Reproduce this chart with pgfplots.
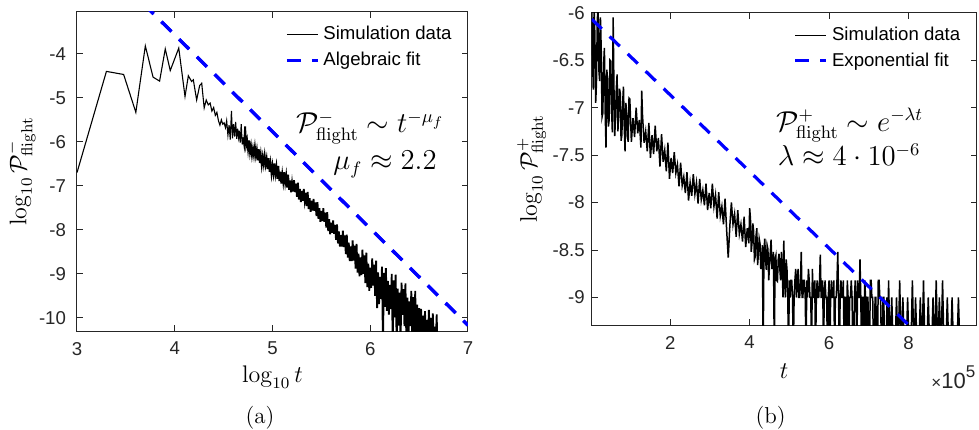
\documentclass[border=0pt]{standalone}
\usepackage[no-math]{fontspec}
\newfontfamily\hel{Liberation Sans}
\usepackage{pgfplots}
\usepackage{pgfplotstable}
\pgfplotsset{compat=1.18}
\definecolor{axgray}{rgb}{0.15,0.15,0.15}
\pgfplotsset{
 mystyle/.style={
  scale only axis,
  axis line style={axgray, line width=0.5pt},
  tick style={axgray, line width=0.5pt},
  major tick length=3pt,
  tick align=inside,
  /pgf/number format/assume math mode=true,
  ticklabel style={font=\hel\fontsize{9.3}{11}\selectfont, text=axgray},
  xticklabel style={yshift=-2pt},
  label style={font=\fontsize{11.5}{13}\selectfont},
  legend style={draw=none, fill=none, font=\hel\fontsize{9.3}{11}\selectfont, row sep=0.5pt},
  legend cell align=left,
 }
}
\pgfplotstableread{
x y
3.000 -6.70
3.301 -4.40
3.477 -4.47
3.602 -5.33
3.699 -3.82
3.778 -4.53
3.845 -4.62
3.903 -3.89
3.954 -4.38
4.041 -3.87
4.105 -4.97
4.139 -4.50
4.173 -4.63
4.190 -4.59
4.224 -5.05
4.255 -4.72
4.276 -4.67
4.301 -5.23
4.322 -5.05
4.343 -5.16
4.362 -5.12
4.380 -5.30
4.398 -5.22
4.415 -5.40
4.431 -5.33
4.447 -5.52
4.462 -5.62
4.477 -5.50
4.491 -5.60
4.505 -5.57
4.519 -5.68
4.531 -5.52
4.544 -5.85
4.556 -5.62
4.568 -5.95
4.580 -5.30
4.591 -5.92
4.602 -5.60
4.613 -5.88
4.623 -5.55
4.634 -5.93
4.643 -5.70
4.653 -5.90
4.66 -5.75
4.67 -6.02
4.68 -5.60
4.69 -6.06
4.70 -5.90
}\leftearly
\pgfplotstableread{
x y
4.70 -5.90
4.71 -6.05
4.72 -5.65
4.73 -6.08
4.74 -5.96
4.75 -6.18
4.76 -5.97
4.77 -6.24
4.78 -6.09
4.79 -6.31
4.80 -6.15
4.81 -6.31
4.82 -6.11
4.83 -6.32
4.84 -6.18
4.85 -6.42
4.86 -6.17
4.87 -6.48
4.88 -6.29
4.89 -6.53
4.90 -6.34
4.91 -6.51
4.92 -6.31
4.93 -6.52
4.94 -6.38
4.95 -6.62
4.96 -6.37
4.97 -6.68
4.98 -6.49
4.99 -6.73
5.00 -6.54
5.01 -6.72
5.02 -6.49
5.03 -6.73
5.04 -6.56
5.05 -6.84
5.06 -6.55
5.07 -6.89
5.08 -6.68
5.09 -6.95
5.10 -6.73
5.11 -6.92
5.12 -6.69
5.13 -6.93
5.14 -6.76
5.15 -7.04
5.16 -6.75
5.17 -7.09
5.18 -6.88
5.19 -7.15
5.20 -6.93
5.21 -7.13
5.22 -6.87
5.23 -7.14
5.24 -6.95
5.25 -7.25
5.26 -6.93
5.27 -7.31
5.28 -7.07
5.29 -7.37
5.30 -7.12
5.31 -7.34
5.32 -7.07
5.33 -7.34
5.34 -7.16
5.35 -7.46
5.36 -7.14
5.37 -7.53
5.38 -7.28
5.39 -7.59
5.40 -7.34
5.41 -7.56
5.42 -7.30
5.43 -7.57
5.44 -7.38
5.45 -7.69
5.46 -7.37
5.47 -7.75
5.48 -7.51
5.49 -7.82
5.50 -7.57
5.51 -7.80
5.52 -7.51
5.53 -7.82
5.54 -7.61
5.55 -7.95
5.56 -7.60
5.57 -8.03
5.58 -7.76
5.59 -8.10
5.60 -7.84
5.61 -8.07
5.62 -7.79
5.63 -8.09
5.64 -7.89
5.65 -8.23
5.66 -7.88
5.67 -8.31
5.68 -8.04
5.69 -8.38
5.70 -8.12
5.71 -8.38
5.72 -8.02
5.73 -8.39
5.74 -8.13
5.75 -8.55
5.76 -8.11
5.77 -8.63
5.78 -8.29
5.79 -8.71
5.80 -8.38
5.81 -8.71
5.82 -8.24
5.83 -8.70
5.84 -8.36
5.85 -8.88
5.86 -8.32
5.87 -8.97
5.88 -8.54
5.89 -9.06
5.90 -8.63
5.91 -9.03
5.92 -8.45
5.93 -9.00
5.94 -8.58
5.95 -9.21
5.96 -8.52
5.97 -9.30
5.98 -8.77
5.99 -9.39
6.00 -8.86
6.01 -9.32
6.02 -8.65
6.03 -9.27
6.04 -8.79
6.05 -9.50
6.06 -8.70
6.07 -9.78
6.08 -8.97
6.09 -9.69
6.10 -9.07
6.11 -9.57
6.12 -8.84
6.13 -10.6
6.14 -8.98
6.15 -9.75
6.16 -8.87
6.17 -9.84
6.18 -9.16
6.19 -9.93
6.20 -9.25
6.21 -9.80
6.22 -9.00
6.23 -10.6
6.24 -9.15
6.25 -9.99
6.26 -9.02
6.27 -10.6
6.28 -9.34
6.29 -10.18
6.30 -9.43
6.31 -10.6
6.32 -9.20
6.33 -9.93
6.34 -9.35
6.35 -10.19
6.36 -9.22
6.37 -10.6
6.38 -9.54
6.39 -10.6
6.40 -9.63
6.41 -10.19
6.42 -9.39
6.43 -10.6
6.44 -9.53
6.45 -10.6
6.46 -9.39
6.47 -10.6
6.48 -9.70
6.49 -10.6
6.50 -9.78
6.51 -10.6
6.52 -9.80
6.53 -10.6
6.54 -9.95
6.55 -10.6
6.56 -9.85
6.57 -10.6
6.58 -10.05
6.59 -10.6
6.60 -9.82
6.61 -10.6
6.62 -10.00
6.63 -10.6
6.64 -9.90
6.65 -10.6
6.66 -10.20
6.67 -10.6
6.68 -9.92
6.685 -10.6
}\leftband
\pgfplotstableread{
x y
0.02 -5.85
0.04 -6.45
0.06 -6.81
0.08 -5.95
0.10 -6.23
0.12 -6.95
0.14 -6.74
0.16 -6.10
0.18 -5.90
0.20 -6.60
0.22 -6.72
0.24 -6.05
0.26 -6.39
0.28 -7.10
0.30 -7.06
0.32 -6.55
0.34 -6.37
0.36 -7.05
0.38 -7.42
0.40 -6.60
0.42 -6.70
0.44 -7.20
0.46 -7.13
0.48 -6.50
0.50 -6.51
0.52 -7.00
0.54 -7.26
0.56 -6.05
0.58 -6.77
0.60 -7.30
0.62 -7.10
0.64 -6.80
0.66 -6.65
0.68 -7.25
0.70 -7.06
0.72 -6.80
0.74 -6.85
0.76 -7.35
0.78 -7.29
0.80 -6.95
0.82 -6.78
0.84 -7.20
0.86 -7.46
0.88 -6.95
0.90 -7.04
0.92 -7.30
0.94 -7.36
0.96 -6.90
0.98 -6.91
1.02 -7.36
1.06 -7.11
1.10 -7.31
1.14 -7.00
1.18 -7.27
1.22 -7.13
1.26 -7.42
1.28 -6.82
1.30 -7.08
1.34 -7.37
1.38 -7.25
1.42 -7.46
1.46 -7.16
1.50 -7.53
1.54 -7.29
1.58 -7.49
1.62 -7.19
1.66 -7.46
1.70 -7.32
1.74 -7.62
1.78 -7.28
1.82 -7.57
1.86 -7.45
1.90 -7.67
1.94 -7.37
1.98 -7.75
2.02 -7.53
2.06 -7.69
2.10 -7.47
2.14 -7.69
2.18 -7.60
2.22 -7.83
2.26 -7.58
2.30 -7.82
2.34 -7.73
2.38 -7.90
2.42 -7.68
2.46 -7.98
2.50 -7.79
2.54 -7.93
2.58 -7.70
2.62 -7.91
2.66 -7.79
2.70 -8.01
2.74 -7.75
2.78 -7.97
2.82 -7.87
2.86 -8.03
2.90 -7.80
2.94 -8.08
2.98 -7.90
3.02 -8.06
3.06 -7.80
3.10 -8.04
3.14 -7.92
3.18 -8.17
3.22 -7.89
3.26 -8.14
3.30 -8.04
3.34 -8.23
3.38 -7.96
3.42 -8.29
3.46 -8.58
3.50 -8.25
3.54 -8.00
3.58 -8.23
3.62 -8.12
3.66 -8.36
3.70 -8.08
3.74 -8.33
3.78 -8.23
3.82 -8.41
3.86 -8.15
3.90 -8.47
3.94 -8.27
3.98 -8.43
4.00 -8.06
4.02 -8.17
4.04 -8.52
4.06 -8.42
4.08 -8.22
4.10 -8.30
4.12 -8.60
4.14 -8.57
4.16 -8.35
4.18 -8.27
4.20 -8.66
4.22 -8.54
4.24 -8.38
4.26 -8.43
4.28 -8.70
4.30 -8.63
4.32 -8.45
4.34 -9.6
4.36 -8.52
4.38 -8.38
4.40 -8.60
4.42 -8.71
4.44 -8.45
4.46 -8.49
4.48 -8.82
4.50 -8.66
4.52 -8.52
4.54 -8.39
4.56 -8.70
4.58 -8.65
4.60 -8.52
4.62 -9.6
4.64 -8.60
4.66 -8.56
4.68 -8.82
4.70 -8.83
4.72 -8.60
4.74 -8.54
4.76 -8.70
4.78 -8.82
4.80 -8.52
4.82 -8.70
4.84 -9.00
4.86 -8.40
4.88 -8.82
4.90 -9.00
4.92 -8.60
4.94 -8.70
4.96 -9.00
4.98 -9.6
5.00 -8.82
5.02 -9.00
5.04 -8.82
5.06 -8.82
5.08 -9.00
5.10 -9.6
5.12 -9.00
5.14 -8.82
5.16 -8.70
5.18 -9.00
5.20 -8.82
5.22 -8.70
5.24 -9.00
5.26 -9.00
5.28 -8.82
5.30 -8.52
5.32 -9.00
5.34 -9.00
5.36 -8.82
5.38 -8.82
5.40 -9.00
5.42 -9.6
5.44 -8.82
5.46 -9.00
5.48 -8.70
5.50 -8.82
5.52 -9.00
5.54 -9.00
5.56 -9.6
5.58 -8.70
5.60 -9.00
5.62 -9.00
5.64 -8.82
5.66 -9.6
5.68 -9.00
5.70 -8.82
5.72 -9.00
5.74 -9.00
5.76 -8.82
5.78 -8.55
5.80 -9.00
5.82 -9.00
5.84 -8.82
5.86 -9.6
5.88 -9.00
5.90 -8.82
5.92 -9.00
5.94 -9.00
5.96 -9.6
5.98 -9.00
6.00 -8.82
6.02 -9.6
6.04 -9.00
6.06 -8.82
6.08 -9.00
6.10 -9.00
6.12 -8.82
6.14 -9.6
6.16 -9.00
6.18 -9.00
6.20 -8.82
6.22 -8.52
6.24 -9.00
6.26 -9.6
6.28 -9.00
6.30 -8.82
6.32 -9.00
6.34 -9.00
6.36 -8.82
6.38 -9.6
6.40 -9.00
6.42 -9.00
6.44 -9.6
6.46 -8.82
6.48 -9.00
6.50 -9.6
6.52 -9.00
6.54 -9.00
6.56 -8.82
6.58 -9.00
6.60 -9.6
6.62 -9.6
6.64 -9.00
6.66 -8.82
6.68 -9.00
6.70 -9.6
6.72 -8.82
6.74 -9.00
6.76 -9.00
6.78 -8.60
6.80 -9.00
6.82 -9.6
6.84 -9.00
6.86 -9.00
6.88 -9.6
6.90 -8.82
6.92 -9.00
6.94 -9.6
6.96 -9.00
6.98 -9.00
7.00 -9.6
7.02 -9.6
7.04 -8.82
7.06 -8.82
7.08 -9.00
7.10 -9.00
7.12 -9.6
7.14 -9.6
7.16 -9.00
7.18 -9.00
7.20 -9.6
7.22 -9.6
7.24 -8.82
7.26 -8.82
7.28 -9.00
7.30 -9.00
7.32 -9.6
7.34 -9.6
7.36 -9.00
7.38 -9.00
7.40 -9.6
7.42 -9.6
7.44 -9.6
7.46 -9.00
7.48 -9.6
7.50 -8.82
7.54 -9.6
7.58 -9.00
7.62 -9.6
7.66 -9.6
7.70 -9.00
7.74 -9.6
7.78 -8.82
7.82 -9.6
7.86 -9.00
7.90 -9.6
7.94 -9.6
7.98 -9.00
8.02 -9.6
8.06 -9.6
8.10 -8.82
8.14 -9.6
8.18 -9.00
8.22 -9.6
8.26 -9.6
8.30 -9.00
8.34 -9.6
8.38 -8.82
8.42 -9.6
8.46 -9.6
8.50 -9.00
8.54 -9.6
8.58 -9.6
8.62 -9.00
8.66 -9.6
8.70 -8.82
8.74 -9.6
8.78 -9.00
8.82 -9.6
8.86 -8.82
8.90 -9.6
8.94 -9.6
8.98 -9.00
9.02 -9.6
9.06 -9.6
9.10 -9.00
9.14 -9.6
9.18 -9.6
9.22 -9.6
9.26 -9.00
9.30 -9.6
}\rightdata
\begin{document}
\begin{tikzpicture}[x=1pt,y=1pt]
\useasboundingbox (0,0) rectangle (489.5,214.5);
\begin{axis}[mystyle,
  at={(38.5pt,49pt)}, anchor=south west,
  width=195.5pt, height=159.5pt,
  xmin=3, xmax=7, ymin=-10.3, ymax=-3.05,
  xtick={3,4,5,6,7}, ytick={-10,-9,-8,-7,-6,-5,-4},
  yticklabel style={xshift=-2pt},
  xlabel={$\log_{10} t$}, ylabel={$\log_{10}\mathcal{P}^{-}_{\mathrm{flight}}$},
  xlabel style={at={(axis description cs:0.5,-0.163)}, anchor=base},
  ylabel style={at={(axis description cs:-0.143,0.5)}, anchor=center},
  legend style={at={(1,1)}, anchor=north east, xshift=-3pt, yshift=-3pt},
  legend image code/.code={\draw[#1] (0pt,0pt) -- (15.5pt,0pt);},
]
\addplot[black, line width=0.55pt] table[x=x,y=y] {\leftearly};
\addlegendentry{Simulation data}
\addplot[blue, line width=1.6pt, dash pattern=on 7pt off 5.5pt] coordinates {(3.5,-2.47) (7.0,-10.17)};
\addlegendentry{Algebraic fit}
\addplot[black, line width=0.9pt, forget plot] table[x=x,y=y] {\leftband};
\addplot[blue, line width=1.6pt, dash pattern=on 7pt off 5.5pt, forget plot] coordinates {(3.5,-2.47) (7.0,-10.17)};
\node[anchor=base west, font=\fontsize{13.5}{15}\selectfont] at (axis cs:5.17,-5.80) {$\mathcal{P}^{-}_{\mathrm{flight}}\sim t^{-\mu_f}$};
\node[anchor=base west, font=\fontsize{13.5}{15}\selectfont] at (axis cs:5.55,-6.64) {$\mu_f\approx 2.2$};
\end{axis}
\begin{axis}[mystyle,
  at={(295.85pt,52pt)}, anchor=south west,
  width=192.5pt, height=156.15pt,
  xmin=0.02, xmax=9.72, ymin=-9.29, ymax=-6,
  xtick={2,4,6,8}, ytick={-9,-8.5,-8,-7.5,-7,-6.5,-6},
  extra x ticks={8.40},
  extra x tick labels={{\fontsize{8.5}{9}\selectfont ×}10\raisebox{0.9ex}{\fontsize{8.5}{9}\selectfont 5}},
  extra x tick style={major tick length=0pt, xticklabel style={font=\hel\fontsize{11}{12}\selectfont, anchor=base west, yshift=-29.5pt}},
  xlabel={$t$}, ylabel={$\log_{10}\mathcal{P}^{+}_{\mathrm{flight}}$},
  xlabel style={at={(axis description cs:0.5,-0.170)}, anchor=base},
  ylabel style={at={(axis description cs:-0.156,0.5)}, anchor=center},
  legend style={at={(1,1)}, anchor=north east, xshift=-3pt, yshift=-3pt},
  legend image code/.code={\draw[#1] (0pt,0pt) -- (15.5pt,0pt);},
]
\addplot[black, line width=0.75pt] table[x=x,y=y] {\rightdata};
\addlegendentry{Simulation data}
\addplot[blue, line width=1.6pt, dash pattern=on 7pt off 5.5pt] coordinates {(0.02,-6.068) (8.05,-9.308)};
\addlegendentry{Exponential fit}
\node[anchor=base west, font=\fontsize{13.5}{15}\selectfont] at (axis cs:4.49,-7.25) {$\mathcal{P}^{+}_{\mathrm{flight}}\sim e^{-\lambda t}$};
\node[anchor=base west, font=\fontsize{13.5}{15}\selectfont] at (axis cs:4.53,-7.61) {$\lambda\approx 4\cdot 10^{-6}$};
\end{axis}
\node[anchor=base, font=\fontsize{11.5}{13}\selectfont] at (130,2.8) {(a)};
\node[anchor=base, font=\fontsize{11.5}{13}\selectfont] at (385.3,2.8) {(b)};
\end{tikzpicture}
\end{document}
